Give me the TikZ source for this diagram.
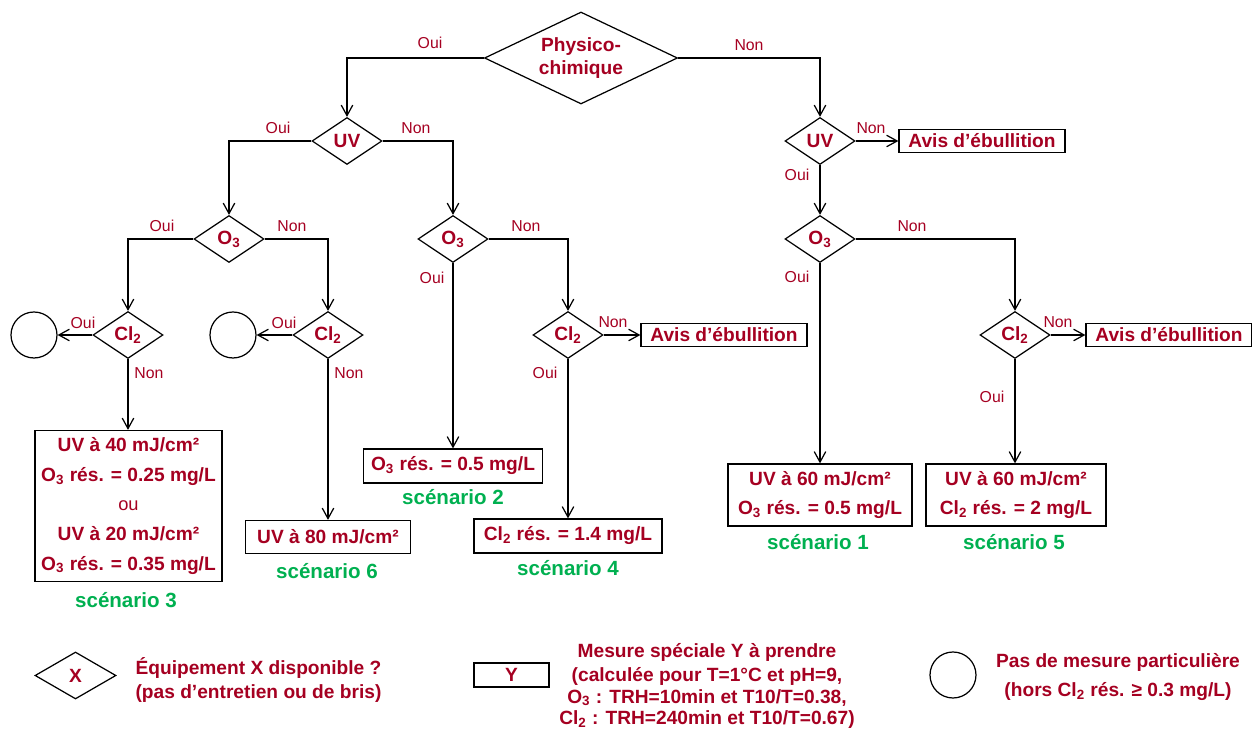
\documentclass[tikz,border=0pt]{standalone}
\usepackage{fontspec}
\setmainfont{Liberation Sans}
\usetikzlibrary{shapes.geometric,arrows.meta}
\definecolor{txtred}{RGB}{165,0,33}
\definecolor{scgreen}{RGB}{0,176,80}
\begin{document}
\begin{tikzpicture}[x=0.02cm,y=-0.02cm,line width=0.7pt,
  arr/.style={-{Straight Barb[length=2.1mm,width=2.3mm]}},
  bfnt/.style={font=\fontsize{10.9}{16.8}\selectfont\bfseries},
  dia/.style 2 args={diamond,draw,inner sep=0pt,aspect=2,text=txtred,bfnt,
     minimum width={#1*0.02cm},minimum height={#2*0.02cm}},
  sdia/.style={dia={70}{47}},
  box/.style 2 args={rectangle,draw,inner sep=0pt,text=txtred,bfnt,align=center,
     minimum width={#1*0.02cm},minimum height={#2*0.02cm}},
  avis/.style={box={166}{23}},
  circ/.style={circle,draw,inner sep=0pt,minimum size={46*0.02cm}},
  lbl/.style={text=txtred,font=\fontsize{9}{10}\selectfont,inner sep=0pt},
  scen/.style={text=scgreen,font=\fontsize{11.7}{13}\selectfont\bfseries,inner sep=0pt},
  leg/.style={text=txtred,inner sep=0pt}
]
\useasboundingbox (0,0) rectangle (1252,732);

% decision diamonds
\node[dia={193}{92},align=center,font=\fontsize{10.9}{13.5}\selectfont\bfseries] (pc) at (581,58) {Physico-\\chimique};
\node[sdia] (uv1) at (347,141) {UV};
\node[sdia] (uv2) at (820,141) {UV};
\node[sdia] (o3a) at (229,239) {O\textsubscript{3}};
\node[sdia] (o3b) at (453,239) {O\textsubscript{3}};
\node[sdia] (o3c) at (820,239) {O\textsubscript{3}};
\node[sdia] (cl2a) at (128,335) {Cl\textsubscript{2}};
\node[sdia] (cl2b) at (328,335) {Cl\textsubscript{2}};
\node[sdia] (cl2c) at (568,335) {Cl\textsubscript{2}};
\node[sdia] (cl2d) at (1015,335) {Cl\textsubscript{2}};

% boil water advisories
\node[avis] (avis1) at (982,141) {Avis d’ébullition};
\node[avis] (avis2) at (724,335) {Avis d’ébullition};
\node[avis] (avis3) at (1169,335) {Avis d’ébullition};

% no special measure circles
\node[circ] (circa) at (34,335) {};
\node[circ] (circb) at (233,335) {};

% scenario boxes
\node[box={187}{151}] (s3box) at (128.5,506) {UV à 40 mJ/cm²\\O\textsubscript{3} rés. = 0.25 mg/L\\{\mdseries\fontsize{10.4}{16.8}\selectfont ou}\\UV à 20 mJ/cm²\\O\textsubscript{3} rés. = 0.35 mg/L};
\node[box={165}{33}] (s6box) at (328,537) {UV à 80 mJ/cm²};
\node[box={179}{34}] (s2box) at (453,466) {O\textsubscript{3} rés. = 0.5 mg/L};
\node[box={188}{34}] (s4box) at (568,536) {Cl\textsubscript{2} rés. = 1.4 mg/L};
\node[box={184}{62}] (s1box) at (820,495) {UV à 60 mJ/cm²\\O\textsubscript{3} rés. = 0.5 mg/L};
\node[box={180}{62}] (s5box) at (1016,495) {UV à 60 mJ/cm²\\Cl\textsubscript{2} rés. = 2 mg/L};

\node[scen] (sc3) at (126,600) {scénario 3};
\node[scen] (sc6) at (327,571) {scénario 6};
\node[scen] (sc2) at (453,497) {scénario 2};
\node[scen] (sc4) at (568,568) {scénario 4};
\node[scen] (sc1) at (818,542) {scénario 1};
\node[scen] (sc5) at (1014,542) {scénario 5};

% connectors
\draw[arr] (pc.west) -| (uv1.north);
\draw[arr] (pc.east) -| (uv2.north);
\draw[arr] (uv1.west) -| (o3a.north);
\draw[arr] (uv1.east) -| (o3b.north);
\draw[arr] (uv2.east) -- (avis1.west);
\draw[arr] (uv2.south) -- (o3c.north);
\draw[arr] (o3a.west) -| (cl2a.north);
\draw[arr] (o3a.east) -| (cl2b.north);
\draw[arr] (o3b.south) -- (s2box.north);
\draw[arr] (o3b.east) -| (cl2c.north);
\draw[arr] (o3c.south) -- (o3c.south |- s1box.north);
\draw[arr] (o3c.east) -| (cl2d.north);
\draw[arr] (cl2a.west) -- (circa.east);
\draw[arr] (cl2a.south) -- (cl2a.south |- s3box.north);
\draw[arr] (cl2b.west) -- (circb.east);
\draw[arr] (cl2b.south) -- (cl2b.south |- s6box.north);
\draw[arr] (cl2c.east) -- (avis2.west);
\draw[arr] (cl2c.south) -- (cl2c.south |- s4box.north);
\draw[arr] (cl2d.east) -- (avis3.west);
\draw[arr] (cl2d.south) -- (cl2d.south |- s5box.north);

% Oui / Non labels
\node[lbl] (l1) at (430,43) {Oui};
\node[lbl] (l2) at (749,45) {Non};
\node[lbl] (l3) at (278,128) {Oui};
\node[lbl] (l4) at (416,128) {Non};
\node[lbl] (l5) at (871,128) {Non};
\node[lbl] (l6) at (797,175) {Oui};
\node[lbl] (l7) at (162,226) {Oui};
\node[lbl] (l8) at (292,226) {Non};
\node[lbl] (l9) at (526,226) {Non};
\node[lbl] (l10) at (432,278) {Oui};
\node[lbl] (l11) at (912,226) {Non};
\node[lbl] (l12) at (797,277) {Oui};
\node[lbl] (l13) at (83,323) {Oui};
\node[lbl] (l14) at (149,373) {Non};
\node[lbl] (l15) at (284,323) {Oui};
\node[lbl] (l16) at (349,373) {Non};
\node[lbl] (l17) at (613,322) {Non};
\node[lbl] (l18) at (545,373) {Oui};
\node[lbl] (l19) at (1058,322) {Non};
\node[lbl] (l20) at (992,397) {Oui};

% legend
\node[dia={81}{47}] (legx) at (75.5,675.5) {X};
\node[leg,anchor=west,align=left,font=\fontsize{10.9}{14.2}\selectfont\bfseries] (legxt) at (135,680) {Équipement X disponible ?\\(pas d’entretien ou de bris)};
\node[box={75}{24}] (legy) at (511.5,675) {Y};
\node[leg,align=center,font=\fontsize{10.9}{12.2}\selectfont\bfseries] (legyt) at (707,686) {Mesure spéciale Y à prendre\\[1.5pt](calculée pour T=1°C et pH=9,\\O\textsubscript{3} : TRH=10min et T10/T=0.38,\\Cl\textsubscript{2} : TRH=240min et T10/T=0.67)};
\node[circ] (legc) at (953,675) {};
\node[leg,align=center,font=\fontsize{10.9}{17}\selectfont\bfseries] (legct) at (1118,677) {Pas de mesure particulière\\(hors Cl\textsubscript{2} rés. ≥ 0.3 mg/L)};
\end{tikzpicture}
\end{document}
